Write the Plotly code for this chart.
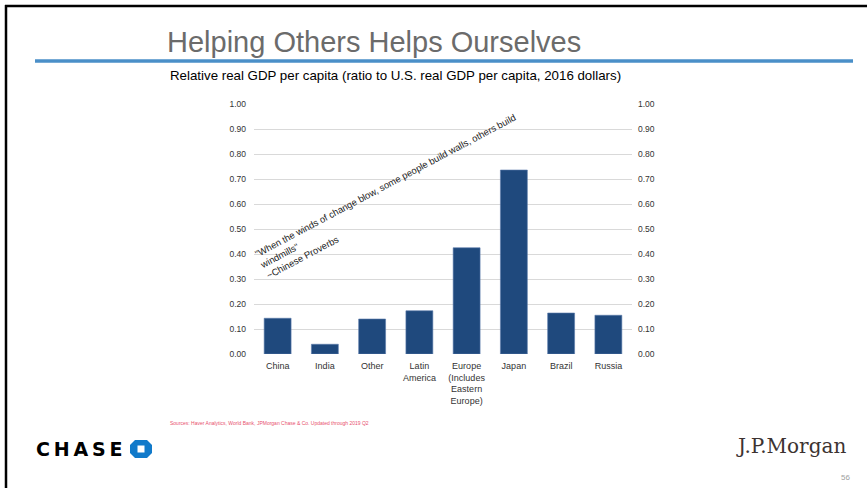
import plotly.graph_objects as go

categories = ["China", "India", "Other", "Latin<br>America",
              "Europe<br>(Includes<br>Eastern<br>Europe)", "Japan", "Brazil", "Russia"]
values = [0.143, 0.039, 0.140, 0.173, 0.425, 0.736, 0.164, 0.155]
tick_vals = [0.0, 0.1, 0.2, 0.3, 0.4, 0.5, 0.6, 0.7, 0.8, 0.9, 1.0]

title_text = "Helping Others Helps Ourselves"
subtitle_text = "Relative real GDP per capita (ratio to U.S. real GDP per capita, 2016 dollars)"
quote_text = ("\"When the winds of change blow, some people build walls, others build<br>"
              "windmills\"<br>~Chinese Proverbs")
source_text = "Sources: Haver Analytics, World Bank, JPMorgan Chase & Co. Updated through 2019 Q2"

W, H = 867, 488
L, R, T, B = 254, 632, 104, 354  # plot area in pixels

def px(x):
    return (x - L) / (R - L)

def py(y):
    return (B - y) / (B - T)

FONT = "Arial, Liberation Sans, sans-serif"

fig = go.Figure()
fig.add_trace(go.Bar(x=categories, y=values, marker=dict(color="#1f497d",
                     line=dict(color="#5a7bab", width=0.6)), showlegend=False))
# invisible trace for the right axis
fig.add_trace(go.Scatter(x=categories, y=values, yaxis="y2", mode="markers",
                         marker=dict(opacity=0), showlegend=False, hoverinfo="skip"))

axis_font = dict(family=FONT, size=8.5, color="#333333")
fig.update_layout(
    width=W, height=H,
    margin=dict(l=L, r=W - R, t=T, b=H - B),
    paper_bgcolor="white", plot_bgcolor="white",
    bargap=0.43,
    font=dict(family=FONT),
    xaxis=dict(showline=False, ticks="", tickfont=dict(family=FONT, size=9, color="#333333"),
               tickangle=0, showgrid=False, fixedrange=True, ticklabelstandoff=5),
    yaxis=dict(range=[0, 1], tickvals=tick_vals, tickformat=".2f",
               showgrid=True, gridcolor="#d9d9d9", gridwidth=1,
               zeroline=False, showline=False, ticks="", ticklabelstandoff=7,
               tickfont=axis_font),
    yaxis2=dict(range=[0, 1], tickvals=tick_vals, tickformat=".2f",
                overlaying="y", side="right", showgrid=False, zeroline=False,
                showline=False, ticks="", ticklabelstandoff=5, tickfont=axis_font),
)

shapes = [
    # slide frame (top and left)
    dict(type="line", xref="paper", yref="paper", x0=px(5), x1=px(867), y0=py(6), y1=py(6),
         line=dict(color="black", width=2.5)),
    dict(type="line", xref="paper", yref="paper", x0=px(6), x1=px(6), y0=py(5), y1=py(488),
         line=dict(color="black", width=2.5)),
    # blue rule under title
    dict(type="line", xref="paper", yref="paper", x0=px(35), x1=px(853), y0=py(61), y1=py(61),
         line=dict(color="#4a8fc8", width=3.5)),
    # Chase logo: blue octagon with white square
    dict(type="path", xref="paper", yref="paper",
         path="M {a},{b} L {c},{b} L {d},{e} L {d},{f} L {c},{g} L {a},{g} L {h},{f} L {h},{e} Z".format(
             a=px(135), c=px(147), d=px(152), h=px(130),
             b=py(440), e=py(445), f=py(453), g=py(458)),
         fillcolor="#117aca", line=dict(width=0)),
    dict(type="rect", xref="paper", yref="paper", x0=px(137.5), x1=px(144.5),
         y0=py(445.5), y1=py(452.5), fillcolor="white", line=dict(width=0)),
]
fig.update_layout(shapes=shapes)

annotations = [
    dict(text=title_text, x=px(165), y=py(42), xanchor="left", yanchor="middle",
         font=dict(family=FONT, size=29, color="#6b6b6b")),
    dict(text=subtitle_text, x=px(168), y=py(76), xanchor="left", yanchor="middle",
         font=dict(family=FONT, size=13.3, color="black")),
    dict(text=quote_text, x=px(390), y=py(196), xanchor="center", yanchor="middle",
         textangle=-28, align="left", showarrow=False,
         font=dict(family=FONT, size=9.4, color="#222222")),
    dict(text=source_text, x=px(168), y=py(423), xanchor="left", yanchor="middle",
         font=dict(family=FONT, size=5, color="#e8506e")),
    dict(text="<b>C\u2009H\u2009A\u2009S\u2009E</b>", x=px(34), y=py(449), xanchor="left",
         yanchor="middle",
         font=dict(family="DejaVu Sans, sans-serif", size=19, color="black")),
    dict(text="J.P.Morgan", x=px(734), y=py(446), xanchor="left", yanchor="middle",
         font=dict(family="DejaVu Serif, Liberation Serif, serif", size=20, color="#3d3331")),
    dict(text="56", x=px(845), y=py(477), xanchor="center", yanchor="middle",
         font=dict(family=FONT, size=8, color="#a0a0a0")),
]
for a in annotations:
    a.setdefault("showarrow", False)
    a["xref"] = "paper"
    a["yref"] = "paper"
fig.update_layout(annotations=annotations)

fig.write_html("out.html", config={"displayModeBar": False},
               post_script="document.body.style.margin='0';document.body.style.padding='0';")
